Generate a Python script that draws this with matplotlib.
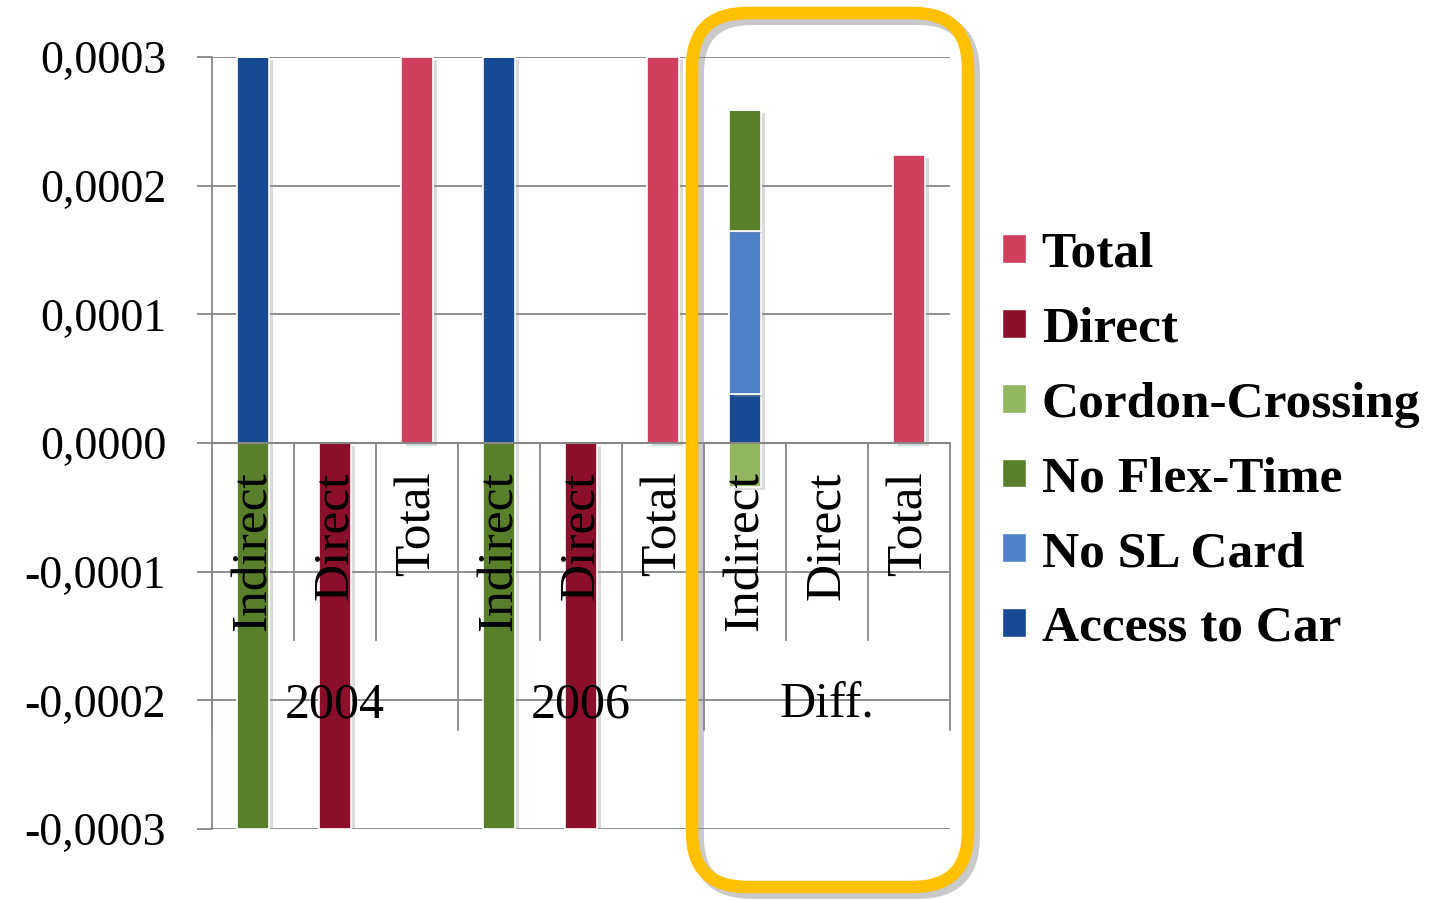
import numpy as np
import matplotlib
matplotlib.use("Agg")
import matplotlib.pyplot as plt
from matplotlib.patches import Patch, FancyBboxPatch
from matplotlib.ticker import FuncFormatter
from matplotlib.transforms import IdentityTransform
import matplotlib.patheffects as pe

plt.rcParams['font.family'] = ['Liberation Serif', 'DejaVu Serif']

# categories, two levels
groups = ['2004', '2006', 'Diff.']
subcats = ['Indirect', 'Direct', 'Total']

# series in stacking order (first = bottom)
series_names = ['Access to Car', 'No SL Card', 'No Flex-Time',
                'Cordon-Crossing', 'Direct', 'Total']
access_car = [0.0003, 0, 0, 0.0003, 0, 0, 0.000038, 0, 0]
no_sl_card = [0, 0, 0, 0, 0, 0, 0.000127, 0, 0]
no_flex = [-0.0003, 0, 0, -0.0003, 0, 0, 0.000094, 0, 0]
cordon = [0, 0, 0, 0, 0, 0, -0.000034, 0, 0]
direct = [0, -0.0003, 0, 0, -0.0003, 0, 0, 0, 0]
total = [0, 0, 0.0003, 0, 0, 0.0003, 0, 0, 0.000224]
series_vals = [access_car, no_sl_card, no_flex, cordon, direct, total]
colors = ['#174A93', '#4F81C7', '#5A7F2A', '#92B75E', '#8B0E2A', '#D13F5E']

fig = plt.figure(figsize=(14.41, 9), dpi=100)
ax = fig.add_axes([0.1471, 0.0789, 0.5122, 0.8578])

n = len(groups) * len(subcats)
x = np.arange(n)
pos_base = np.zeros(n)
neg_base = np.zeros(n)
shadow = [pe.SimplePatchShadow(offset=(3, -2), shadow_rgbFace='#999999', alpha=0.35), pe.Normal()]
for vals, col in zip(series_vals, colors):
    v = np.array(vals, dtype=float)
    bottom = np.where(v >= 0, pos_base, neg_base)
    bars = ax.bar(x, v, width=0.38, bottom=bottom, color=col,
                  edgecolor='white', linewidth=1.2, zorder=2)
    for b in bars:
        b.set_path_effects(shadow)
    pos_base += np.where(v > 0, v, 0)
    neg_base += np.where(v < 0, v, 0)

ax.set_xlim(-0.5, n - 0.5)
ax.set_ylim(-0.0003, 0.0003)
ax.set_yticks(np.arange(-3, 4) * 1e-4)
ax.yaxis.set_major_formatter(FuncFormatter(lambda v, p: f"{v:.4f}".replace('.', ',')))
ax.tick_params(axis='y', length=11, width=1.3, color='#878787', pad=22, labelsize=33)
ax.tick_params(axis='x', length=0, labelbottom=False)
ax.grid(axis='y', color='#878787', linewidth=1.3, zorder=1)
ax.set_axisbelow(True)
for s in ['top', 'right', 'bottom']:
    ax.spines[s].set_visible(False)
ax.spines['left'].set_color('#878787')
ax.spines['left'].set_linewidth(1.3)

# category axis at zero
ax.axhline(0, color='#878787', linewidth=1.5, zorder=3)
for i in range(1, n + 1):
    end = -0.000223 if i % 3 == 0 else -0.000153
    ax.plot([i - 0.5, i - 0.5], [0, end], color='#878787', linewidth=1.3,
            zorder=3, clip_on=False)
ax.plot([-0.5, -0.5], [0, -0.000223], color='#878787', linewidth=1.3, zorder=3)

for i in range(n):
    ax.text(x[i], -0.000022, subcats[i % 3], rotation=90, ha='center', va='top',
            fontsize=37, zorder=4)
for g, name in enumerate(groups):
    ax.text(3 * g + 1, -0.000204, name, ha='center', va='center', fontsize=36, zorder=4)

handles = [Patch(facecolor=c, edgecolor='white') for c in colors][::-1]
labels = series_names[::-1]
fig.legend(handles, labels, loc='center left', bbox_to_anchor=(0.663, 0.509),
           frameon=False, prop={'weight': 'bold', 'size': 37},
           handlelength=0.48, handleheight=0.48, handletextpad=0.3, labelspacing=0.56)

# highlight around the difference columns, with a soft drop shadow
box_xy, box_w, box_h = (692, 13), 276, 874
box_shadow = FancyBboxPatch((box_xy[0] + 5, box_xy[1] - 5), box_w, box_h,
                            boxstyle="round,pad=0,rounding_size=55",
                            transform=IdentityTransform(), fill=False,
                            edgecolor='#888888', alpha=0.45, linewidth=10, zorder=5)
fig.add_artist(box_shadow)
box = FancyBboxPatch(box_xy, box_w, box_h,
                     boxstyle="round,pad=0,rounding_size=55",
                     transform=IdentityTransform(), fill=False,
                     edgecolor='#FFC000', linewidth=9, zorder=6)
fig.add_artist(box)

fig.savefig('out.png', dpi=100)
